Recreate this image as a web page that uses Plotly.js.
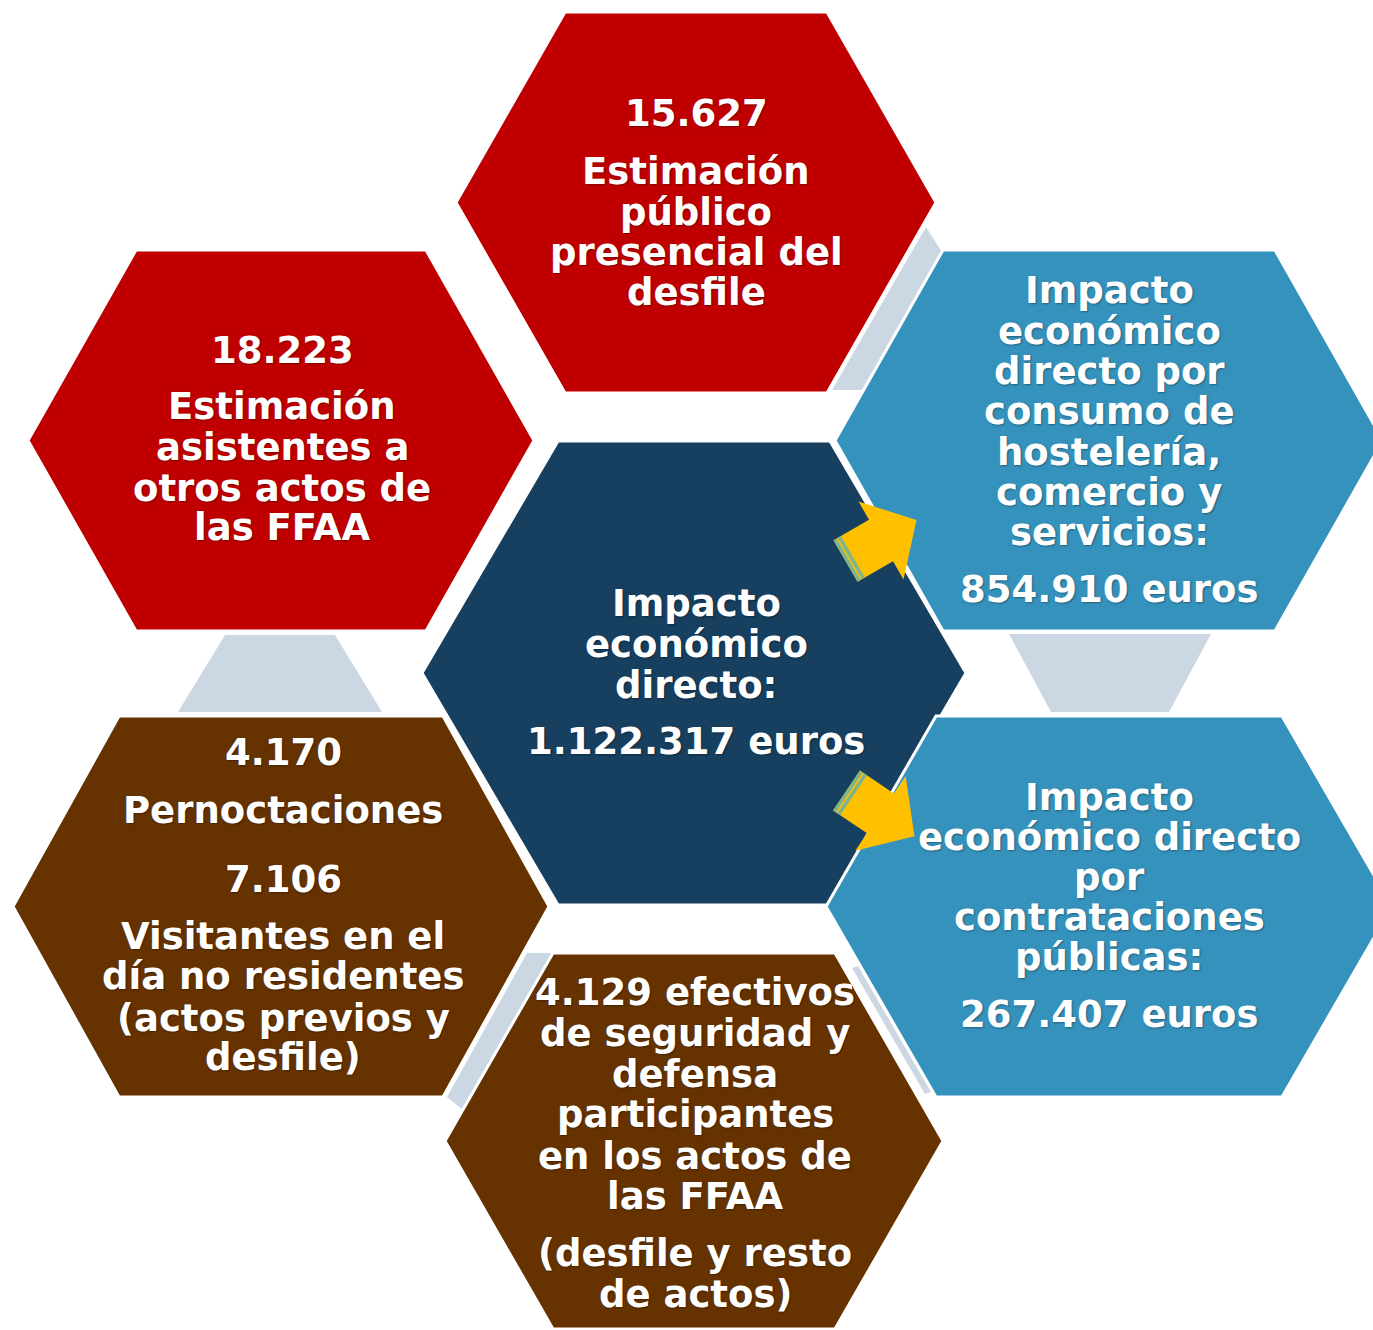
<!DOCTYPE html>
<html>
<head>
<meta charset="utf-8">
<script src="https://cdn.plot.ly/plotly-3.0.1.min.js"></script>
<style>
html,body{margin:0;padding:0;background:#ffffff;}
#chart{width:1373px;height:1330px;}
</style>
</head>
<body>
<div id="chart"></div>
<script>
// ---------------- DATA (text content of each hexagon) ----------------
const publicoLines       = ['15.627', 'Estimación', 'público', 'presencial del', 'desfile'];
const asistentesLines    = ['18.223', 'Estimación', 'asistentes a', 'otros actos de', 'las FFAA'];
const impactoTotalLines  = ['Impacto', 'económico', 'directo:', '1.122.317 euros'];
const hosteleriaLines    = ['Impacto', 'económico', 'directo por', 'consumo de', 'hostelería,', 'comercio y', 'servicios:', '854.910 euros'];
const contratacionLines  = ['Impacto', 'económico directo', 'por', 'contrataciones', 'públicas:', '267.407 euros'];
const visitantesLines    = ['4.170', 'Pernoctaciones', '7.106', 'Visitantes en el', 'día no residentes', '(actos previos y', 'desfile)'];
const efectivosLines     = ['4.129 efectivos', 'de seguridad y', 'defensa', 'participantes', 'en los actos de', 'las FFAA', '(desfile y resto', 'de actos)'];

// ---------------- LAYOUT (positions, sizes, colours) ----------------
const W = 1373, H = 1330;
const RED = '#C00000', NAVY = '#173F5F', SKY = '#3592BC', BROWN = '#663300';
const GREY = '#CBD8E4', YELLOW = '#FFC000', STRIPE = '#7DB58F';

// hexagon geometry: centre, half width (to side vertex), half height, half top-edge
const hexes = [
  {cx: 696, cy: 202.5, hw: 240, hh: 190.5, ht: 131, color: RED,   lines: publicoLines,      lx: 696,  ly: [113, 171, 212, 252, 292]},
  {cx: 281, cy: 440.5, hw: 253, hh: 190.5, ht: 145, color: RED,   lines: asistentesLines,   lx: 282,  ly: [350, 406, 447, 488, 527]},
  {cx: 281, cy: 906.5, hw: 268, hh: 190.5, ht: 162, color: BROWN, lines: visitantesLines,   lx: 283,  ly: [752, 810, 879, 936, 976, 1018, 1057]},
  {cx: 694, cy: 1141,  hw: 249, hh: 188,   ht: 141, color: BROWN, lines: efectivosLines,    lx: 695,  ly: [992, 1033, 1074, 1114, 1156, 1196, 1253, 1294]},
  {cx: 694, cy: 673,   hw: 272, hh: 232,   ht: 136, color: NAVY,  lines: impactoTotalLines, lx: 696,  ly: [603, 644, 685, 741]},
  {cx: 1109, cy: 440.5, hw: 274, hh: 190.5, ht: 166, color: SKY,  lines: hosteleriaLines,   lx: 1109, ly: [290, 331, 371, 411, 452, 492, 532, 589]},
  {cx: 1109, cy: 906.5, hw: 283, hh: 190.5, ht: 173, color: SKY,  lines: contratacionLines, lx: 1109, ly: [797, 837, 877, 917, 957, 1014]}
];

// light grey connectors between neighbouring hexagons
const connectors = [
  [[225, 635], [335, 635], [382, 712], [178, 712]],
  [[1009, 634], [1211, 634], [1169, 712], [1051, 712]],
  [[926, 227], [942, 252], [862, 390], [832, 390]],
  [[527, 953], [552, 953], [463, 1110], [447, 1097]],
  [[852, 968], [858, 966], [931, 1092], [925, 1094]]
];

// block arrows (tail centre, angle in degrees, screen y downwards)
const arrows = [
  {tx: 845.5, ty: 561, ang: -30},
  {tx: 846.5, ty: 790.5, ang: 34}
];
const ARROW_SHAPE = [[0, -24], [41, -24], [41, -45], [82, 0], [41, 45], [41, 24], [0, 24]];
const STRIPES = [[0, 3.5], [5, 8.5]];

// ---------------- BUILD ----------------
const traces = [];
function polyTrace(pts, fill, lineColor, lineWidth) {
  const xs = pts.map(p => p[0]); xs.push(pts[0][0]);
  const ys = pts.map(p => p[1]); ys.push(pts[0][1]);
  return {type: 'scatter', mode: 'lines', x: xs, y: ys, fill: 'toself', fillcolor: fill,
          line: {color: lineColor || fill, width: lineWidth || 0}, hoverinfo: 'skip', showlegend: false};
}
connectors.forEach(c => traces.push(polyTrace(c, GREY, GREY, 0)));

hexes.forEach(h => {
  const pts = [[h.cx - h.hw, h.cy], [h.cx - h.ht, h.cy - h.hh], [h.cx + h.ht, h.cy - h.hh],
               [h.cx + h.hw, h.cy], [h.cx + h.ht, h.cy + h.hh], [h.cx - h.ht, h.cy + h.hh]];
  traces.push(polyTrace(pts, h.color, '#FFFFFF', 3));
});

function arrowPts(a, shape) {
  const r = a.ang * Math.PI / 180;
  const ux = Math.cos(r), uy = Math.sin(r);
  const vx = -Math.sin(r), vy = Math.cos(r);
  return shape.map(p => [a.tx + p[0] * ux + p[1] * vx, a.ty + p[0] * uy + p[1] * vy]);
}
arrows.forEach(a => {
  traces.push(polyTrace(arrowPts(a, ARROW_SHAPE), YELLOW, YELLOW, 0));
  STRIPES.forEach(s => {
    traces.push(polyTrace(arrowPts(a, [[s[0], -24], [s[1], -24], [s[1], 24], [s[0], 24]]), STRIPE, STRIPE, 0));
  });
});

const annotations = [];
hexes.forEach(h => {
  h.lines.forEach((t, i) => {
    annotations.push({
      x: h.lx, y: h.ly[i], xref: 'x', yref: 'y', text: t, showarrow: false,
      xanchor: 'center', yanchor: 'middle',
      font: {family: 'DejaVu Sans', size: 37, color: '#FFFFFF', weight: 'bold',
             shadow: '1px 1px 2px rgba(0,0,0,0.35)'}
    });
  });
});

const layout = {
  width: W, height: H,
  margin: {l: 0, r: 0, t: 0, b: 0, pad: 0},
  paper_bgcolor: '#FFFFFF', plot_bgcolor: '#FFFFFF',
  showlegend: false,
  xaxis: {range: [0, W], visible: false, fixedrange: true},
  yaxis: {range: [H, 0], visible: false, fixedrange: true},
  annotations: annotations
};

Plotly.newPlot('chart', traces, layout, {staticPlot: true, displayModeBar: false});
</script>
</body>
</html>
